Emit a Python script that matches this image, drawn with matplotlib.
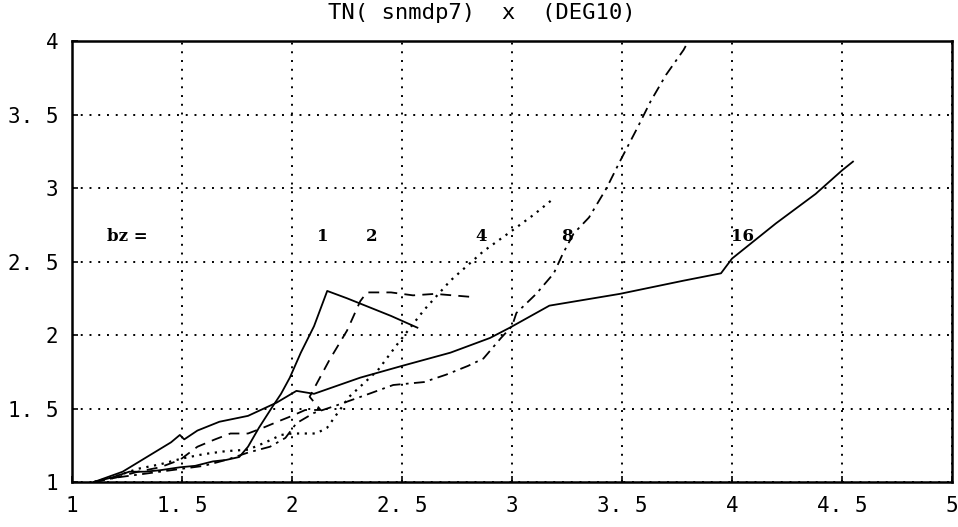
import matplotlib
matplotlib.use("Agg")
import matplotlib.pyplot as plt

# bz = 1 (solid)
bz1_x = [1.10, 1.18, 1.26, 1.33, 1.40, 1.49, 1.56, 1.64, 1.70, 1.76, 1.80, 1.85, 1.91, 1.95, 1.99, 2.04, 2.10, 2.16, 2.25, 2.35, 2.45, 2.57]
bz1_y = [1.00, 1.03, 1.07, 1.07, 1.08, 1.10, 1.11, 1.14, 1.15, 1.17, 1.24, 1.37, 1.51, 1.60, 1.71, 1.88, 2.06, 2.30, 2.25, 2.19, 2.13, 2.05]

# bz = 2 (dashed)
bz2_x = [1.10, 1.20, 1.30, 1.40, 1.49, 1.57, 1.65, 1.72, 1.80, 1.87, 1.95, 2.00, 2.06, 2.13, 2.08, 2.17, 2.25, 2.31, 2.34, 2.45, 2.55, 2.65, 2.81]
bz2_y = [1.00, 1.03, 1.07, 1.10, 1.15, 1.24, 1.29, 1.33, 1.33, 1.37, 1.42, 1.45, 1.49, 1.49, 1.58, 1.83, 2.03, 2.23, 2.29, 2.29, 2.27, 2.28, 2.26]

# bz = 4 (dotted)
bz4_x = [1.10, 1.20, 1.30, 1.40, 1.50, 1.60, 1.70, 1.80, 1.88, 1.95, 2.00, 2.11, 2.16, 2.26, 2.39, 2.48, 2.60, 2.72, 2.87, 3.00, 3.10, 3.19]
bz4_y = [1.00, 1.04, 1.09, 1.12, 1.16, 1.19, 1.21, 1.22, 1.27, 1.32, 1.33, 1.33, 1.37, 1.58, 1.76, 1.94, 2.17, 2.37, 2.57, 2.71, 2.82, 2.93]

# bz = 8 (dash-dot)
bz8_x = [1.10, 1.20, 1.30, 1.40, 1.50, 1.60, 1.70, 1.80, 1.90, 1.97, 2.02, 2.10, 2.20, 2.35, 2.46, 2.60, 2.70, 2.80, 2.87, 2.95, 3.00, 3.02, 3.11, 3.19, 3.23, 3.28, 3.35, 3.43, 3.49, 3.57, 3.63, 3.70, 3.78, 3.82]
bz8_y = [1.00, 1.03, 1.05, 1.07, 1.09, 1.11, 1.15, 1.20, 1.24, 1.30, 1.40, 1.47, 1.52, 1.60, 1.66, 1.68, 1.73, 1.79, 1.84, 1.98, 2.06, 2.15, 2.28, 2.42, 2.55, 2.69, 2.80, 3.00, 3.18, 3.41, 3.59, 3.77, 3.94, 4.05]

# bz = 16 (solid)
bz16_x = [1.10, 1.23, 1.34, 1.45, 1.49, 1.51, 1.57, 1.67, 1.80, 1.93, 2.02, 2.10, 2.31, 2.50, 2.72, 2.90, 2.99, 3.17, 3.49, 3.78, 3.95, 4.00, 4.20, 4.38, 4.50, 4.55]
bz16_y = [1.00, 1.07, 1.17, 1.27, 1.32, 1.29, 1.35, 1.41, 1.45, 1.54, 1.62, 1.60, 1.71, 1.79, 1.88, 1.98, 2.05, 2.20, 2.28, 2.37, 2.42, 2.52, 2.76, 2.96, 3.12, 3.18]

curve_labels = ["bz =", "1", "2", "4", "8", "16"]
label_x = [1.25, 2.14, 2.36, 2.86, 3.25, 4.05]
label_y = 2.67

x_ticks = [1, 1.5, 2, 2.5, 3, 3.5, 4, 4.5, 5]
x_tick_labels = ["1", "1. 5", "2", "2. 5", "3", "3. 5", "4", "4. 5", "5"]
y_ticks = [1, 1.5, 2, 2.5, 3, 3.5, 4]
y_tick_labels = ["1", "1. 5", "2", "2. 5", "3", "3. 5", "4"]

fig = plt.figure(figsize=(9.58, 5.27), dpi=100)
ax = fig.add_axes([0.0752, 0.0854, 0.9185, 0.8366])

lw = 1.3
ax.plot(bz1_x, bz1_y, color="black", lw=lw, ls="-")
ax.plot(bz2_x, bz2_y, color="black", lw=lw, ls=(0, (6, 4)))
ax.plot(bz4_x, bz4_y, color="black", lw=lw + 0.3, ls=(0, (1, 2.5)))
ax.plot(bz8_x, bz8_y, color="black", lw=lw, ls=(0, (6, 3, 1.5, 3)))
ax.plot(bz16_x, bz16_y, color="black", lw=lw, ls="-")

ax.set_xlim(1, 5)
ax.set_ylim(1, 4)
ax.set_xticks(x_ticks)
ax.set_xticklabels(x_tick_labels)
ax.set_yticks(y_ticks)
ax.set_yticklabels(y_tick_labels)

ax.grid(True, color="black", ls=(0, (1, 3.5)), lw=1.4)
ax.tick_params(axis="both", direction="in", length=4, width=1.2,
               labelsize=15, colors="black")
ax.tick_params(axis="x", pad=10)
ax.tick_params(axis="y", pad=10)
for lab in ax.get_xticklabels() + ax.get_yticklabels():
    lab.set_fontfamily("DejaVu Sans Mono")
for sp in ax.spines.values():
    sp.set_linewidth(1.8)
    sp.set_color("black")

for txt, lx in zip(curve_labels, label_x):
    ax.text(lx, label_y, txt, ha="center", va="center", fontsize=12,
            fontweight="bold", family="DejaVu Serif", color="black")

fig.text(482 / 958, 1 - 13 / 527, "TN( snmdp7)  x  (DEG10)", ha="center",
         va="center", fontsize=16, family="DejaVu Sans Mono", color="black")

fig.savefig("out.png", dpi=100, facecolor="white")
